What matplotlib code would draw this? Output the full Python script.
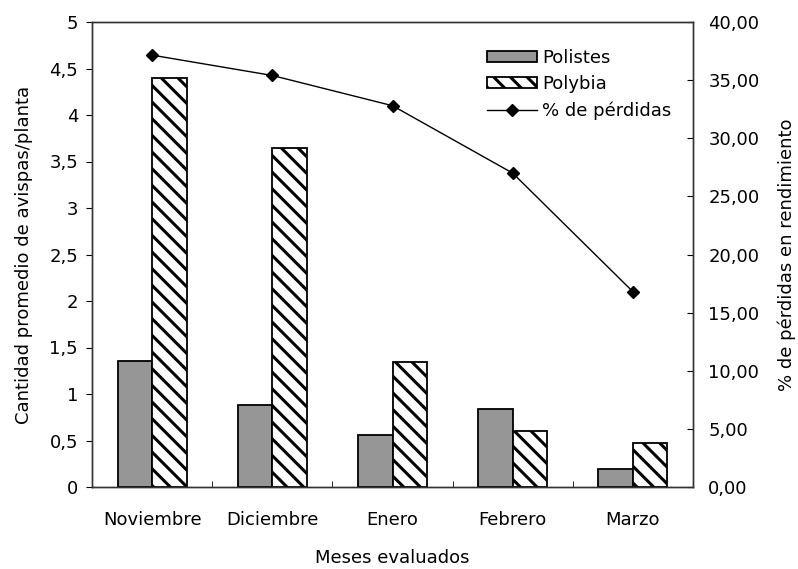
import numpy as np
import matplotlib.pyplot as plt
from matplotlib.ticker import FuncFormatter

plt.rcParams['font.family'] = ['DejaVu Sans']
plt.rcParams['hatch.linewidth'] = 2.2

# datos
meses = ['Noviembre', 'Diciembre', 'Enero', 'Febrero', 'Marzo']
polistes = [1.36, 0.88, 0.56, 0.84, 0.19]
polybia = [4.40, 3.65, 1.34, 0.60, 0.47]
perdidas = [37.15, 35.40, 32.80, 27.00, 16.80]

x = np.arange(len(meses))
ancho = 0.287
fs = 13

fig = plt.figure(figsize=(7.98, 5.69), dpi=100)
ax = fig.add_axes([92 / 798, 1 - 487 / 569, 601 / 798, 465 / 569])

b1 = ax.bar(x - ancho / 2, polistes, ancho, color='#969696', edgecolor='black',
            linewidth=1.3, label='Polistes')
b2 = ax.bar(x + ancho / 2, polybia, ancho, color='white', edgecolor='black',
            hatch='\\\\', linewidth=1.3, label='Polybia')

ax.set_xlim(-0.5, len(meses) - 0.5)
ax.set_ylim(0, 5)
ax.set_yticks(np.arange(0, 5.01, 0.5))
ax.yaxis.set_major_formatter(FuncFormatter(lambda v, p: ('%g' % v).replace('.', ',')))
ax.set_xticks(x)
ax.set_xticklabels(meses)
ax.set_xticks(np.arange(0.5, len(meses) - 1, 1.0), minor=True)
ax.tick_params(axis='x', which='major', length=0, labelsize=fs, pad=17)
ax.tick_params(axis='x', which='minor', direction='in', length=4)
ax.tick_params(axis='y', direction='out', length=4, labelsize=fs, pad=6)
ax.set_ylabel('Cantidad promedio de avispas/planta', fontsize=fs, labelpad=12)
ax.set_xlabel('Meses evaluados', fontsize=fs, labelpad=15)

ax2 = ax.twinx()
l1, = ax2.plot(x, perdidas, color='black', linewidth=1, marker='D',
               markersize=6, label='% de pérdidas')
ax2.set_ylim(0, 40)
ax2.set_yticks(np.arange(0, 40.1, 5))
ax2.yaxis.set_major_formatter(FuncFormatter(lambda v, p: ('%.2f' % v).replace('.', ',')))
ax2.tick_params(axis='y', direction='in', length=4, labelsize=fs, pad=11)
ax2.set_ylabel('% de pérdidas en rendimiento', fontsize=fs, labelpad=13)

for a in (ax, ax2):
    for s in a.spines.values():
        s.set_color('#333333')
        s.set_linewidth(1)

ax2.legend([b1, b2, l1], ['Polistes', 'Polybia', '% de pérdidas'],
           loc='upper left', bbox_to_anchor=(0.63, 0.977), frameon=False,
           fontsize=fs, handlelength=2.75, handleheight=0.6, labelspacing=0.45,
           handletextpad=0.3)

fig.savefig('out.png', dpi=100)
